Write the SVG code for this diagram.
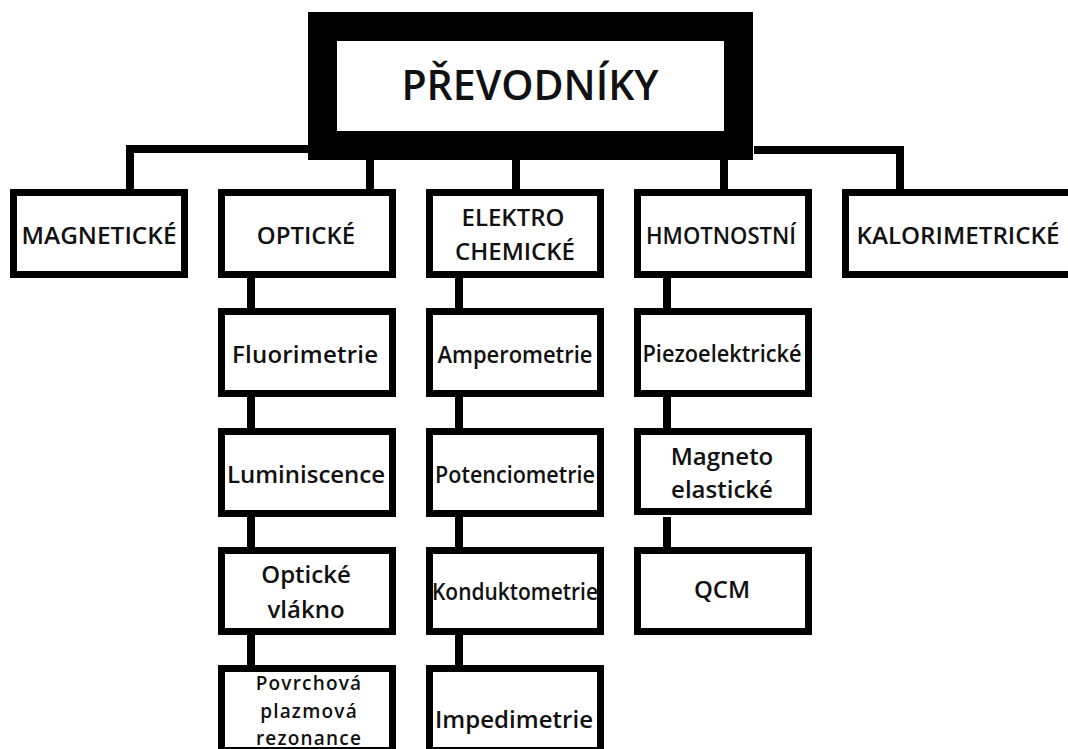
<svg xmlns="http://www.w3.org/2000/svg" width="1068" height="749" viewBox="0 0 1068 749">
<style>
.box{fill:#fff;stroke:#000;stroke-width:7}
.title{fill:#fff;stroke:#000;stroke-width:29}
.conn{stroke:#000;stroke-width:8;fill:none;stroke-linecap:butt}
text{font-family:"Open Sans","Noto Sans","Liberation Sans",sans-serif;fill:#111;text-anchor:middle}
.t1{font-size:41px;font-weight:600}
.t2{font-size:24px;font-weight:600}
.t3{font-size:24px;font-weight:600}
.t4{font-size:19px;font-weight:600;letter-spacing:1.2px}
</style>
<rect width="1068" height="749" fill="#fff"/>
<g id="connectors">
<path class="conn" d="M308 149H130V190"/>
<path class="conn" d="M754 150H900V190"/>
<path class="conn" d="M370 160V190M516 160V190M724 160V190"/>
<path class="conn" d="M251 278V308M251 397V428M251 517V547M251 635V665"/>
<path class="conn" d="M459 278V308M459 397V428M459 517V547M459 635V665"/>
<path class="conn" d="M667 278V308M667 397V428M667 517V547"/>
</g>
<g id="prevodniky">
<rect class="title" x="322.5" y="26.5" width="416" height="119"/>
<text class="t1" x="530" y="100">PŘEVODNÍKY</text>
</g>
<g id="magneticke">
<rect class="box" x="13.5" y="192.5" width="171" height="82"/>
<text class="t2" x="99" y="244" textLength="155" lengthAdjust="spacingAndGlyphs">MAGNETICKÉ</text>
</g>
<g id="opticke">
<rect class="box" x="221.5" y="192.5" width="171" height="82"/>
<text class="t2" x="306" y="244">OPTICKÉ</text>
</g>
<g id="elektrochemicke">
<rect class="box" x="429.5" y="192.5" width="171" height="82"/>
<text class="t2" x="513" y="226">ELEKTRO</text>
<text class="t2" x="515" y="260">CHEMICKÉ</text>
</g>
<g id="hmotnostni">
<rect class="box" x="637.5" y="192.5" width="171" height="82"/>
<text class="t2" x="721" y="244" textLength="150" lengthAdjust="spacingAndGlyphs">HMOTNOSTNÍ</text>
</g>
<g id="kalorimetricke">
<rect class="box" x="845.5" y="192.5" width="232" height="82"/>
<text class="t2" x="958" y="244" textLength="203" lengthAdjust="spacingAndGlyphs">KALORIMETRICKÉ</text>
</g>
<g id="fluorimetrie">
<rect class="box" x="221.5" y="311.5" width="171" height="82"/>
<text class="t3" x="305" y="363" textLength="146" lengthAdjust="spacing">Fluorimetrie</text>
</g>
<g id="luminiscence">
<rect class="box" x="221.5" y="431.5" width="171" height="82"/>
<text class="t3" x="306" y="483">Luminiscence</text>
</g>
<g id="opticke-vlakno">
<rect class="box" x="221.5" y="550.5" width="171" height="81"/>
<text class="t3" x="306" y="583">Optické</text>
<text class="t3" x="306" y="618">vlákno</text>
</g>
<g id="povrchova">
<rect class="box" x="221.5" y="668.5" width="171" height="82"/>
<text class="t4" x="309" y="690">Povrchová</text>
<text class="t4" x="309" y="718">plazmová</text>
<text class="t4" x="309" y="745">rezonance</text>
</g>
<g id="amperometrie">
<rect class="box" x="429.5" y="311.5" width="171" height="82"/>
<text class="t3" x="515" y="363" textLength="155" lengthAdjust="spacingAndGlyphs">Amperometrie</text>
</g>
<g id="potenciometrie">
<rect class="box" x="429.5" y="431.5" width="171" height="82"/>
<text class="t3" x="515" y="483" textLength="160" lengthAdjust="spacingAndGlyphs">Potenciometrie</text>
</g>
<g id="konduktometrie">
<rect class="box" x="429.5" y="550.5" width="171" height="81"/>
<text class="t3" x="515" y="600" textLength="166" lengthAdjust="spacingAndGlyphs">Konduktometrie</text>
</g>
<g id="impedimetrie">
<rect class="box" x="429.5" y="668.5" width="171" height="82"/>
<text class="t3" x="514" y="728" textLength="158" lengthAdjust="spacing">Impedimetrie</text>
</g>
<g id="piezoelektricke">
<rect class="box" x="637.5" y="311.5" width="171" height="82"/>
<text class="t3" x="722" y="362" textLength="159" lengthAdjust="spacingAndGlyphs">Piezoelektrické</text>
</g>
<g id="magnetoelasticke">
<rect class="box" x="637.5" y="431.5" width="171" height="80"/>
<text class="t3" x="722" y="465">Magneto</text>
<text class="t3" x="722" y="498">elastické</text>
</g>
<g id="qcm">
<rect class="box" x="637.5" y="550.5" width="171" height="81"/>
<text class="t3" x="722" y="598">QCM</text>
</g>
</svg>
